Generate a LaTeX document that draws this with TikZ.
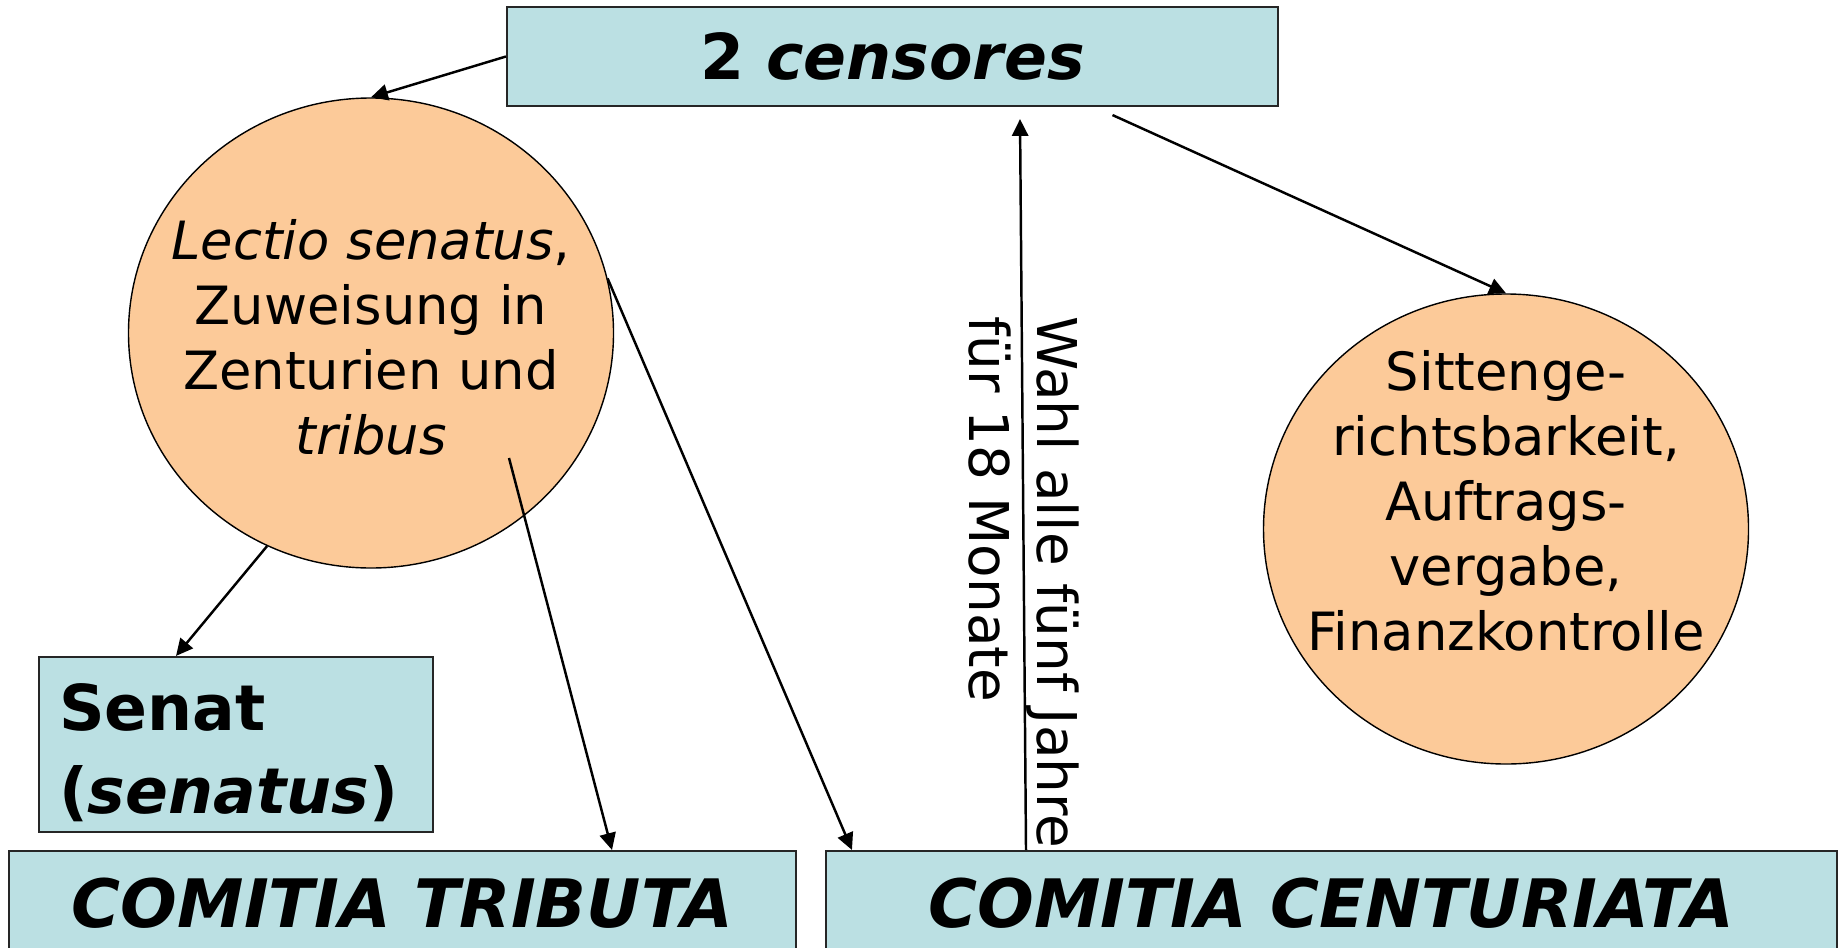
\documentclass[tikz,border=0pt]{standalone}
\usepackage{fontspec}
\setmainfont{DejaVu Sans}
\usepackage{xcolor}
\usetikzlibrary{arrows.meta,shapes.geometric}

\definecolor{boxblue}{RGB}{187,224,227}
\definecolor{ovalorange}{RGB}{252,202,153}

\begin{document}
\begin{tikzpicture}[
  blubox/.style={draw=black!85,line width=0.6pt,fill=boxblue,inner sep=0pt},
  oval/.style={ellipse,draw,fill=ovalorange,minimum width=4.85cm,minimum height=4.7cm},
  ovaltext/.style={align=center,font=\fontsize{15pt}{18.5pt}\selectfont},
  arr/.style={-{Triangle[length=4.8pt,width=4.6pt]},line width=0.7pt}]

\useasboundingbox (0cm,0cm) rectangle (18.43cm,-9.47cm);

\node [blubox,minimum width=7.71cm,minimum height=0.99cm] (cens) at (8.925cm,-0.565cm) {\fontsize{18pt}{22pt}\selectfont\bfseries 2 \textit{censores}};

\node [oval] (lect) at (3.71cm,-3.33cm) {};
\node [ovaltext] (lecttxt) at (3.71cm,-3.37cm) {\textit{Lectio senatus},\\Zuweisung in\\Zenturien und\\\textit{tribus}};

\node [oval] (sitt) at (15.06cm,-5.29cm) {};
\node [ovaltext] (sitttxt) at (15.06cm,-5.01cm) {Sittenge-\\richtsbarkeit,\\Auftrags-\\vergabe,\\Finanzkontrolle};

\node [blubox,minimum width=3.94cm,minimum height=1.75cm,text width=3.54cm,align=left,font=\fontsize{18pt}{23.4pt}\selectfont\bfseries] (senat) at (2.36cm,-7.445cm) {\rule{0pt}{18pt}Senat\\(\textit{senatus})};

\node [blubox,minimum width=7.87cm,minimum height=1.04cm,font=\fontsize{19pt}{23pt}\selectfont\bfseries\itshape] (trib) at (4.025cm,-9.03cm) {COMITIA TRIBUTA};
\node [blubox,minimum width=10.11cm,minimum height=1.04cm,font=\fontsize{19pt}{23pt}\selectfont\bfseries\itshape] (cent) at (13.315cm,-9.03cm) {COMITIA CENTURIATA};

\draw [arr] (cens.west) -- (lect.north);
\draw [arr] ([xshift=2.2cm,yshift=-0.08cm]cens.south) -- (sitt.north);
\draw [arr] (lect.244) -- ([xshift=-0.6cm]senat.north);
\draw [arr] ([xshift=1.38cm,yshift=-1.25cm]lect.center) -- ([xshift=2.095cm]trib.north);
\draw [arr] (lect.13) -- ([xshift=0.27cm]cent.north west);
\draw [arr] ([xshift=-3.055cm]cent.north) -- node [pos=0.366,rotate=-90,align=left,font=\fontsize{15.6pt}{19.4pt}\selectfont] (wahl) {Wahl alle fünf Jahre\\für 18 Monate} ([xshift=1.275cm,yshift=-0.12cm]cens.south);

\end{tikzpicture}
\end{document}
